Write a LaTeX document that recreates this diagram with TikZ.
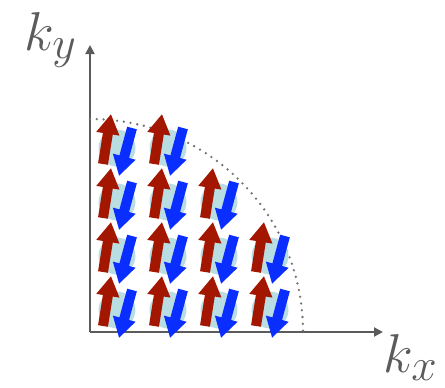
\documentclass[tikz,border=0pt]{standalone}
\usepackage{amsmath}
\usepackage{xcolor}
\usepackage{tikz}
\usetikzlibrary{arrows.meta, positioning, calc}
\definecolor{axisgray}{HTML}{5B5B5B}
\definecolor{spinred}{HTML}{A31700}
\definecolor{spinblue}{HTML}{0A2EFF}
\definecolor{pairblue}{HTML}{B8DDE3}
\tikzset{
    axis/.style={axisgray, line width=2pt, -{Triangle[length=9pt, width=9pt]}},
    fermi/.style={gray!90!black, line width=2.6pt, line cap=round, dash pattern=on 0pt off 6.8pt},
    pair/.style={circle, fill=pairblue, minimum size=37pt, inner sep=0pt},
    upspin/.style={spinred, line width=10pt, -{Triangle[length=20pt, width=22pt]}},
    downspin/.style={spinblue, line width=10pt, -{Triangle[length=20pt, width=22pt]}},
    klabel/.style={text=axisgray, font=\Huge, scale=2.2, inner sep=0pt},
}

\begin{document}
\begin{tikzpicture}[x=1pt, y=-1pt]
    \useasboundingbox (0,0) rectangle (445,388);

    % Axes
    \coordinate (origin) at (90,332);
    \coordinate (ytip) at (90,45);
    \coordinate (xtip) at (383,332);
    \draw[axis] (origin) -- (ytip);
    \draw[axis] (origin) -- (xtip);
    \node[klabel, anchor=base west] (ky) at (24,50) {$k_y$};
    \node[klabel, anchor=base west] (kx) at (383,372) {$k_x$};

    % Fermi surface
    \draw[fermi] (90,119) arc[start angle=90, end angle=0, radius=213pt];

    % Cooper pairs
    \foreach \row/\y/\ncol in {1/148/2, 2/202/3, 3/256/4, 4/310/4} {
        \foreach \col in {1,...,\ncol} {
            \pgfmathsetmacro{\x}{117+51*(\col-1)}
            \node[pair] (p\row\col) at (\x,\y) {};
            \draw[upspin] ($(p\row\col)+(-14,16)$) -- ($(p\row\col)+(-6,-34)$);
            \draw[downspin] ($(p\row\col)+(15,-20)$) -- ($(p\row\col)+(2,28)$);
        }
    }
\end{tikzpicture}
\end{document}
